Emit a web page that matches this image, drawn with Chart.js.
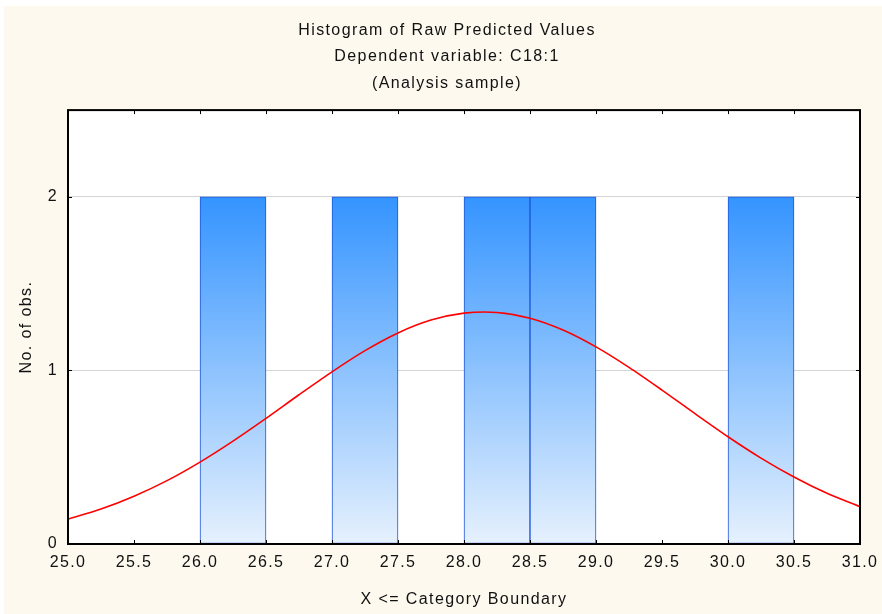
<!DOCTYPE html>
<html lang="en">
  <head>
    <meta charset="UTF-8" />
    <title>Histogram of Raw Predicted Values</title>
    <style>
      html, body { margin: 0; padding: 0; background: #ffffff; }
      #wrap { width: 882px; height: 614px; }
    </style>
  </head>
  <body>
    <div id="wrap">
      <canvas id="myChart" width="882" height="614"></canvas>
    </div>

    <script src="https://cdn.jsdelivr.net/npm/chart.js"></script>
    <script>
      // bin centres (width 0.5) and counts
      const binCenters = [25.25, 25.75, 26.25, 26.75, 27.25, 27.75, 28.25, 28.75, 29.25, 29.75, 30.25, 30.75];
      const binCounts = [0, 0, 2, 0, 2, 0, 2, 2, 0, 0, 2, 0];

      // expected normal curve
      const curveX = [25.0, 25.25, 25.5, 25.75, 26.0, 26.25, 26.5, 26.75, 27.0, 27.25, 27.5, 27.75,
        28.0, 28.25, 28.5, 28.75, 29.0, 29.25, 29.5, 29.75, 30.0, 30.25, 30.5, 30.75, 31.0];
      const curveY = [0.143, 0.201, 0.275, 0.365, 0.472, 0.593, 0.724, 0.860, 0.992, 1.114, 1.216, 1.290,
        1.330, 1.334, 1.301, 1.233, 1.136, 1.018, 0.887, 0.751, 0.618, 0.495, 0.386, 0.292, 0.215];

      const xTicks = [25.0, 25.5, 26.0, 26.5, 27.0, 27.5, 28.0, 28.5, 29.0, 29.5, 30.0, 30.5, 31.0];
      const yTicks = [0, 1, 2];

      const titleLines = ["Histogram of Raw Predicted Values", "Dependent variable: C18:1", "(Analysis sample)"];

      const FONT = "'Liberation Sans', Arial, sans-serif";
      const SPACING = "1.4px";

      // wider letter spacing like the original renderer
      const spacingPlugin = {
        id: "spacing",
        beforeUpdate(chart) { chart.ctx.letterSpacing = SPACING; },
        beforeRender(chart) { chart.ctx.letterSpacing = SPACING; },
        beforeDraw(chart) {
          const { ctx, width, height, chartArea } = chart;
          ctx.save();
          ctx.fillStyle = "#ffffff";
          ctx.fillRect(0, 0, width, height);
          ctx.fillStyle = "#fdf9ef";
          ctx.fillRect(4, 6, width - 4, height - 6);
          ctx.fillStyle = "#ffffff";
          ctx.fillRect(chartArea.left, chartArea.top, chartArea.right - chartArea.left, chartArea.bottom - chartArea.top);
          ctx.restore();
        },
      };

      // frame + small inward ticks on all four sides
      const framePlugin = {
        id: "frame",
        afterDraw(chart) {
          const { ctx, chartArea: a, scales } = chart;
          ctx.save();
          ctx.strokeStyle = "#000000";
          ctx.lineWidth = 1;
          ctx.beginPath();
          xTicks.forEach((v) => {
            const px = Math.round(scales.x.getPixelForValue(v)) + 0.5;
            ctx.moveTo(px, a.bottom);
            ctx.lineTo(px, a.bottom - 4);
            ctx.moveTo(px, a.top);
            ctx.lineTo(px, a.top + 4);
          });
          yTicks.forEach((v) => {
            const py = Math.round(scales.y.getPixelForValue(v)) + 0.5;
            ctx.moveTo(a.left, py);
            ctx.lineTo(a.left + 4, py);
            ctx.moveTo(a.right, py);
            ctx.lineTo(a.right - 4, py);
          });
          ctx.stroke();
          ctx.lineWidth = 2;
          ctx.strokeRect(a.left, a.top, a.right - a.left, a.bottom - a.top);
          ctx.restore();
        },
      };

      function barGradient(context) {
        const chart = context.chart;
        const { ctx, chartArea } = chart;
        if (!chartArea) return "#64acfc";
        const y = chart.scales.y;
        const g = ctx.createLinearGradient(0, y.getPixelForValue(2), 0, y.getPixelForValue(0));
        g.addColorStop(0, "#3494ff");
        g.addColorStop(1, "#e6f1fd");
        return g;
      }

      const ctx = document.getElementById("myChart");

      new Chart(ctx, {
        type: "bar",
        data: {
          datasets: [
            {
              type: "line",
              label: "Normal",
              data: curveX.map((x, i) => ({ x: x, y: curveY[i] })),
              borderColor: "#ff0000",
              borderWidth: 1.6,
              pointRadius: 0,
              tension: 0.3,
              order: 0,
            },
            {
              label: "Count",
              data: binCenters.map((x, i) => ({ x: x, y: binCounts[i] })),
              backgroundColor: barGradient,
              borderColor: "#1d55d8",
              borderWidth: 1,
              borderSkipped: false,
              barPercentage: 1,
              categoryPercentage: 1,
              order: 1,
            },
          ],
        },
        options: {
          responsive: false,
          animation: false,
          layout: { padding: { left: 34, right: 22, top: 0, bottom: 0 } },
          plugins: {
            legend: { display: false },
            tooltip: { enabled: false },
            title: {
              display: true,
              text: titleLines,
              color: "#111111",
              font: { family: FONT, size: 16, weight: "normal", lineHeight: 26.7 / 16 },
              padding: { top: 17, bottom: 13 },
            },
          },
          scales: {
            x: {
              type: "linear",
              min: 25,
              max: 31,
              offset: false,
              afterBuildTicks: (s) => { s.ticks = xTicks.map((v) => ({ value: v })); },
              afterFit: (s) => { s.height = 70; s.paddingRight = 16; s.paddingLeft = 16; },
              ticks: {
                color: "#111111",
                font: { family: FONT, size: 16 },
                padding: 9,
                maxRotation: 0,
                autoSkip: false,
                callback: (v) => Number(v).toFixed(1),
              },
              grid: { display: false, drawTicks: false },
              border: { display: false },
              title: {
                display: true,
                text: "X <= Category Boundary",
                color: "#111111",
                font: { family: FONT, size: 16 },
                padding: { top: 0, bottom: 5 },
              },
            },
            y: {
              min: 0,
              max: 2.5,
              afterBuildTicks: (s) => { s.ticks = yTicks.map((v) => ({ value: v })); },
              afterFit: (s) => { s.width = 34; },
              ticks: {
                color: "#111111",
                font: { family: FONT, size: 16 },
                padding: 10,
              },
              grid: { color: "#d4d4d4", lineWidth: 1, drawTicks: false },
              border: { display: false },
              title: {
                display: true,
                text: "No. of obs.",
                color: "#111111",
                font: { family: FONT, size: 16 },
                padding: { top: -16.6, bottom: 0 },
              },
            },
          },
        },
        plugins: [spacingPlugin, framePlugin],
      });
    </script>
  </body>
</html>
